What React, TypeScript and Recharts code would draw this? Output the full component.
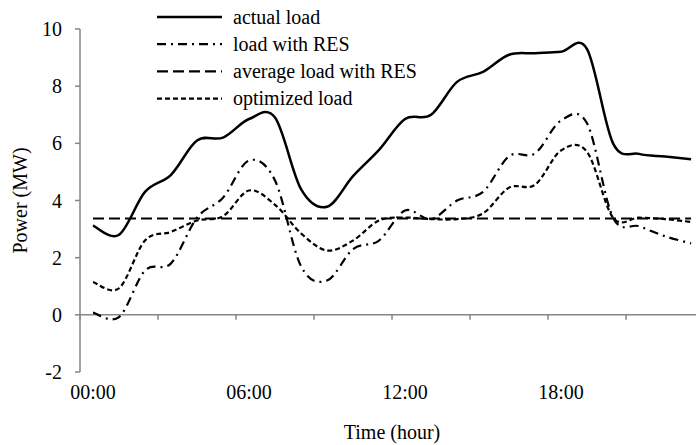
import React from 'react';
import { LineChart, Line, XAxis, YAxis, ReferenceLine, Legend } from 'recharts';

// hourly values
const hours = [0, 1, 2, 3, 4, 5, 6, 7, 8, 9, 10, 11, 12, 13, 14, 15, 16, 17, 18, 19, 20, 21, 22, 23];
const actualLoad = [3.12, 2.8, 4.3, 4.9, 6.1, 6.2, 6.85, 6.9, 4.4, 3.78, 4.85, 5.77, 6.85, 7.0, 8.15, 8.5, 9.1, 9.15, 9.2, 9.3, 6.0, 5.63, 5.54, 5.44];
const loadWithRES = [0.08, -0.08, 1.55, 1.8, 3.4, 4.1, 5.4, 4.7, 1.7, 1.2, 2.3, 2.6, 3.65, 3.35, 4.0, 4.3, 5.55, 5.65, 6.8, 6.7, 3.4, 3.1, 2.75, 2.5];
const averageLoadWithRES = [3.37, 3.37, 3.37, 3.37, 3.37, 3.37, 3.37, 3.37, 3.37, 3.37, 3.37, 3.37, 3.37, 3.37, 3.37, 3.37, 3.37, 3.37, 3.37, 3.37, 3.37, 3.37, 3.37, 3.37];
const optimizedLoad = [1.15, 0.93, 2.6, 2.9, 3.3, 3.45, 4.35, 3.85, 2.85, 2.25, 2.6, 3.3, 3.4, 3.35, 3.35, 3.55, 4.45, 4.55, 5.75, 5.7, 3.4, 3.4, 3.35, 3.25];

const yTicks = [-2, 0, 2, 4, 6, 8, 10];
const labelHours = [0, 6, 12, 18];
const minorTicks = [-0.5, 2.5, 5.5, 8.5, 11.5, 14.5, 17.5, 20.5];

const series = [
    { key: 'actual', name: 'actual load', dash: undefined, width: 2.5 },
    { key: 'res', name: 'load with RES', dash: '9 5 2 5', width: 2.2 },
    { key: 'avg', name: 'average load with RES', dash: '11 5', width: 2.2 },
    { key: 'opt', name: 'optimized load', dash: '5 3', width: 2.2 },
];

const data = hours.map((h, i) => ({
    hour: h,
    actual: actualLoad[i],
    res: loadWithRES[i],
    avg: averageLoadWithRES[i],
    opt: optimizedLoad[i],
}));

const FONT = '"Liberation Serif", "Times New Roman", serif';
const AXIS = '#868686';
const TOP = 29;
const PLOT_H = 343;
const Y_MIN = -2;
const Y_MAX = 10;
const ZERO_Y = TOP + ((Y_MAX - 0) / (Y_MAX - Y_MIN)) * PLOT_H;

const fmtHour = (h: number) => `${String(h).padStart(2, '0')}:00`;

// smoothed line like Excel's (Catmull-Rom through every point)
const smoothCurve = (ctx: any) => {
    let pts: number[][] = [];
    return {
        areaStart() {},
        areaEnd() {},
        lineStart() {
            pts = [];
        },
        point(x: number, y: number) {
            pts.push([+x, +y]);
        },
        lineEnd() {
            if (!pts.length) return;
            ctx.moveTo(pts[0][0], pts[0][1]);
            for (let i = 0; i < pts.length - 1; i++) {
                const p0 = pts[i - 1] || pts[i];
                const p1 = pts[i];
                const p2 = pts[i + 1];
                const p3 = pts[i + 2] || p2;
                ctx.bezierCurveTo(
                    p1[0] + (p2[0] - p0[0]) / 6,
                    p1[1] + (p2[1] - p0[1]) / 6,
                    p2[0] - (p3[0] - p1[0]) / 6,
                    p2[1] - (p3[1] - p1[1]) / 6,
                    p2[0],
                    p2[1],
                );
            }
        },
    };
};

// labels sit under the plot, tick marks hang off the zero line (Excel style)
const XTick = (props: any) => {
    const { x, y, payload } = props;
    const v = payload.value;
    if (labelHours.includes(v)) {
        return (
            <text x={x} y={y + 19} textAnchor="middle" fontFamily={FONT} fontSize={20} fill="#000">
                {fmtHour(v)}
            </text>
        );
    }
    return <line x1={x} x2={x} y1={ZERO_Y} y2={ZERO_Y + 5} stroke={AXIS} strokeWidth={1.5} />;
};

const LegendBox = () => (
    <svg width={320} height={112}>
        {series.map((s, i) => {
            const ly = 17 + i * 27.2;
            return (
                <g key={s.key}>
                    <line x1={0} x2={65} y1={ly} y2={ly} stroke="#000" strokeWidth={s.width} strokeDasharray={s.dash} />
                    <text x={76} y={ly + 6.5} fontFamily={FONT} fontSize={20} fill="#000">
                        {s.name}
                    </text>
                </g>
            );
        })}
    </svg>
);

export default function App() {
    return (
        <div style={{ position: 'absolute', left: 0, top: 0, width: 696, height: 445, background: '#fff' }}>
            <LineChart width={696} height={445} data={data} margin={{ top: TOP, right: 0, bottom: 0, left: 0 }}>
                <XAxis
                    dataKey="hour"
                    type="number"
                    domain={[-0.5, 23.19]}
                    allowDataOverflow
                    ticks={[...minorTicks, ...labelHours].sort((a, b) => a - b)}
                    interval={0}
                    height={73}
                    axisLine={false}
                    tickLine={false}
                    tick={<XTick />}
                    label={{
                        value: 'Time (hour)',
                        position: 'insideBottom',
                        offset: 6,
                        dx: 4,
                        fontFamily: FONT,
                        fontSize: 20,
                        fill: '#000',
                    }}
                />
                <YAxis
                    domain={[Y_MIN, Y_MAX]}
                    ticks={yTicks}
                    interval={0}
                    width={80}
                    axisLine={{ stroke: AXIS, strokeWidth: 1.5 }}
                    tickLine={{ stroke: AXIS, strokeWidth: 1.5 }}
                    tickSize={5}
                    tickMargin={13}
                    tick={{ fontFamily: FONT, fontSize: 20, fill: '#000' }}
                    label={{
                        value: 'Power (MW)',
                        content: () => (
                            <text
                                transform={`translate(27, ${TOP + PLOT_H / 2}) rotate(-90)`}
                                textAnchor="middle"
                                fontFamily={FONT}
                                fontSize={20}
                                fill="#000"
                            >
                                Power (MW)
                            </text>
                        ),
                    }}
                />
                <ReferenceLine y={0} stroke={AXIS} strokeWidth={1.5} />
                <Legend
                    layout="vertical"
                    align="center"
                    verticalAlign="middle"
                    content={<LegendBox />}
                    wrapperStyle={{ left: 157, top: 0, width: 320 }}
                />
                {series.map((s) => (
                    <Line
                        key={s.key}
                        type={smoothCurve as any}
                        dataKey={s.key}
                        name={s.name}
                        stroke="#000"
                        strokeWidth={s.width}
                        strokeDasharray={s.dash}
                        dot={false}
                        activeDot={false}
                        isAnimationActive={false}
                    />
                ))}
            </LineChart>
        </div>
    );
}
